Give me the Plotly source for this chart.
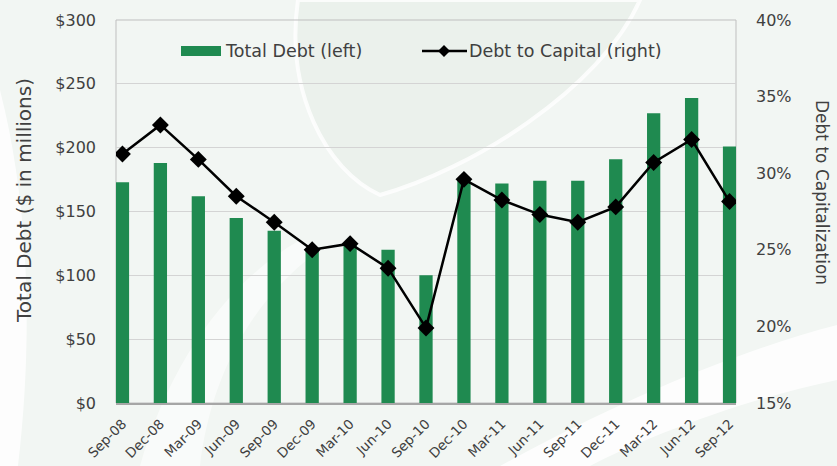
import plotly.graph_objects as go

categories = ["Sep-08", "Dec-08", "Mar-09", "Jun-09", "Sep-09", "Dec-09", "Mar-10", "Jun-10",
              "Sep-10", "Dec-10", "Mar-11", "Jun-11", "Sep-11", "Dec-11", "Mar-12", "Jun-12", "Sep-12"]
total_debt = [173, 188, 162, 145, 135, 121, 125, 120, 100, 176, 172, 174, 174, 191, 227, 239, 201]
debt_to_capital = [31.25, 33.15, 30.9, 28.5, 26.8, 25.0, 25.4, 23.8, 19.9, 29.6, 28.25, 27.3, 26.8, 27.8, 30.7, 32.2, 28.15]
left_ticks = [0, 50, 100, 150, 200, 250, 300]
left_tick_labels = ["$0", "$50", "$100", "$150", "$200", "$250", "$300"]
right_ticks = [15, 20, 25, 30, 35, 40]
right_tick_labels = ["15%", "20%", "25%", "30%", "35%", "40%"]

GREEN = "#1f8a50"
TXT = "#404040"
FONT = "DejaVu Sans"

# plot area in pixels (for decorative paper-coordinate helpers)
PL, PR, PT, PB = 116, 736, 20, 403


def px(x):
    return (x - PL) / (PR - PL)


def py(y):
    return (PB - y) / (PB - PT)


def path(points_cmds):
    out = []
    for item in points_cmds:
        if isinstance(item, str):
            out.append(item)
        else:
            out.append(f"{px(item[0]):.4f},{py(item[1]):.4f}")
    return " ".join(out)


fig = go.Figure()
fig.add_trace(go.Bar(x=categories, y=total_debt, name="Total Debt (left)",
                     marker=dict(color=GREEN, line=dict(width=0)), width=0.35, yaxis="y"))
fig.add_trace(go.Scatter(x=categories, y=debt_to_capital, name="Debt to Capital (right)",
                         mode="lines+markers", line=dict(color="black", width=2.5),
                         marker=dict(symbol="diamond", size=13, color="black"), yaxis="y2"))

shapes = []
# decorative background swooshes
shapes.append(dict(type="path", xref="paper", yref="paper", layer="below",
                   path=path(["M", (298, 0), "C", (285, 90), (325, 170), (380, 195),
                              "C", (470, 170), (600, 90), (640, 0), "Z"]),
                   fillcolor="#ebf1ec", line=dict(color="rgba(255,255,255,0.8)", width=4)))
shapes.append(dict(type="path", xref="paper", yref="paper", layer="below",
                   path=path(["M", (500, 466), "C", (620, 400), (740, 350), (837, 325),
                              "L", (837, 380), "C", (740, 400), (640, 440), (590, 466), "Z"]),
                   fillcolor="rgba(255,255,255,0.8)", line=dict(width=0)))
shapes.append(dict(type="path", xref="paper", yref="paper", layer="below",
                   path=path(["M", (0, 90), "C", (28, 200), (34, 330), (18, 466),
                              "L", (0, 466), "Z"]),
                   fillcolor="rgba(255,255,255,0.8)", line=dict(width=0)))
shapes.append(dict(type="path", xref="paper", yref="paper", layer="below",
                   path=path(["M", (140, 466), "C", (170, 360), (230, 280), (300, 240),
                              "L", (320, 250), "C", (250, 300), (210, 380), (200, 466), "Z"]),
                   fillcolor="rgba(255,255,255,0.55)", line=dict(width=0)))
# plot area frame
shapes.append(dict(type="rect", xref="x domain", yref="y domain", x0=0, x1=1, y0=0, y1=1,
                   line=dict(color="#bfbfbf", width=1), layer="below"))

# custom legend (decorative)
LEG_Y = 51
shapes.append(dict(type="rect", xref="paper", yref="paper",
                   x0=px(181), x1=px(221), y0=py(LEG_Y + 5), y1=py(LEG_Y - 5),
                   fillcolor=GREEN, line=dict(width=0)))
shapes.append(dict(type="line", xref="paper", yref="paper",
                   x0=px(422), x1=px(467), y0=py(LEG_Y), y1=py(LEG_Y),
                   line=dict(color="black", width=2.5)))
shapes.append(dict(type="path", xref="paper", yref="paper",
                   path=path(["M", (438, LEG_Y), "L", (444, LEG_Y - 6), "L", (450, LEG_Y),
                              "L", (444, LEG_Y + 6), "Z"]),
                   fillcolor="black", line=dict(width=0)))

annotations = [
    dict(text="Total Debt (left)", xref="paper", yref="paper", x=px(223), y=py(LEG_Y),
         xanchor="left", yanchor="middle", showarrow=False, font=dict(family=FONT, size=17.5, color=TXT)),
    dict(text="Debt to Capital (right)", xref="paper", yref="paper", x=px(467), y=py(LEG_Y),
         xanchor="left", yanchor="middle", showarrow=False, font=dict(family=FONT, size=17.5, color=TXT)),
    dict(text="Total Debt ($ in millions)", xref="paper", yref="paper", x=px(24), y=py(201),
         xanchor="center", yanchor="middle", textangle=-90, showarrow=False,
         font=dict(family=FONT, size=20, color=TXT)),
    dict(text="Debt to Capitalization", xref="paper", yref="paper", x=px(822), y=py(192),
         xanchor="center", yanchor="middle", textangle=90, showarrow=False,
         font=dict(family=FONT, size=17, color=TXT)),
]

fig.update_layout(
    width=837, height=466,
    margin=dict(l=PL, r=837 - PR, t=PT, b=466 - PB, autoexpand=False),
    paper_bgcolor="#f2f6f3", plot_bgcolor="rgba(0,0,0,0)",
    showlegend=False, bargap=0.65,
    shapes=shapes, annotations=annotations,
    font=dict(family=FONT, color=TXT),
    xaxis=dict(type="category", range=[-0.17, 16.17], tickangle=-45, showgrid=False, automargin=False,
               showline=True, linecolor="#a6a6a6", linewidth=1.5, ticks="", ticklabelstandoff=6,
               tickfont=dict(family=FONT, size=13.5, color=TXT)),
    yaxis=dict(range=[0, 300], tickvals=left_ticks, ticktext=left_tick_labels, automargin=False,
               showgrid=True, gridcolor="#d4d4d4", gridwidth=1, zeroline=False, showline=False,
               ticks="", ticklabelstandoff=19,
               tickfont=dict(family=FONT, size=16, color=TXT)),
    yaxis2=dict(range=[15, 40], tickvals=right_ticks, ticktext=right_tick_labels, automargin=False,
                overlaying="y", side="right", showgrid=False, zeroline=False, showline=False,
                ticks="", ticklabelstandoff=19,
                tickfont=dict(family=FONT, size=16, color=TXT)),
)

fig.write_html("out.html")
